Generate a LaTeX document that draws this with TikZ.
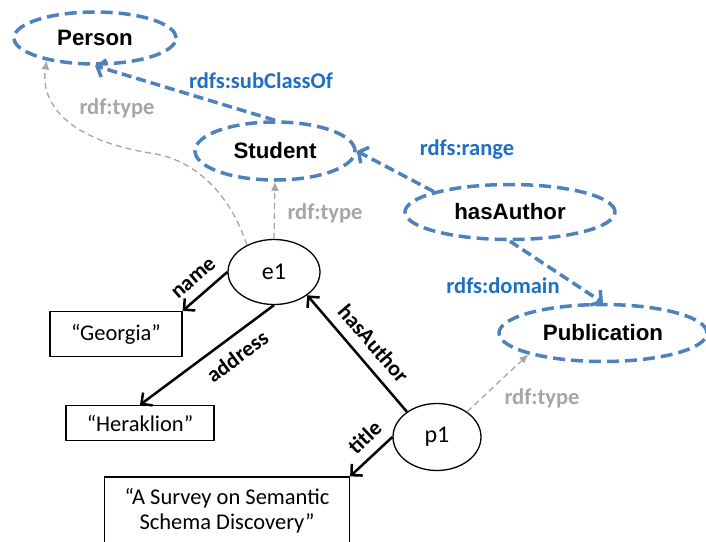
\documentclass[tikz,border=0pt]{standalone}
\usepackage{fontspec}
\setmainfont{Carlito}
\newfontfamily\classfont{Liberation Sans}
\usepackage{tikz}
\usetikzlibrary{arrows.meta,shapes.geometric}
\usepackage{xcolor}
\definecolor{rdfsblue}{RGB}{79,129,189}
\definecolor{rdfslabel}{RGB}{31,112,193}
\definecolor{typegray}{RGB}{166,166,166}

\begin{document}
\begin{tikzpicture}[x=1pt,y=-1pt,
    every node/.style={font=\fontsize{22.5}{25}\selectfont},
    class/.style={ellipse,draw=rdfsblue,line width=3.5pt,dash pattern=on 12pt off 6pt,inner sep=0pt,font=\classfont\bfseries\fontsize{22.3}{25}\selectfont},
    res/.style={ellipse,draw,line width=1.3pt,inner sep=0pt,font=\fontsize{24}{28}\selectfont},
    lit/.style={rectangle,draw,line width=1.3pt,inner sep=0pt,align=center},
    prop/.style={draw,line width=2.5pt,-{Straight Barb[length=8pt,width=16pt]}},
    schema/.style={draw=rdfsblue,line width=3.5pt,dash pattern=on 10pt off 5pt,-{Straight Barb[length=7pt,width=18pt]}},
    inst/.style={draw=typegray,line width=1.3pt,dash pattern=on 6pt off 4pt,-{Latex[length=9pt,width=8pt]}},
    plabel/.style={font=\bfseries\fontsize{22}{25}\selectfont,sloped,inner sep=10pt},
    slabel/.style={font=\bfseries\fontsize{22.5}{25}\selectfont,text=rdfslabel},
    tlabel/.style={font=\bfseries\fontsize{22.5}{25}\selectfont,text=typegray}]
    \useasboundingbox (0,0) rectangle (706,541);

    % schema
    \node[class,minimum width=162pt,minimum height=52pt] (person) at (95,38) {Person};
    \node[class,minimum width=160pt,minimum height=58pt] (student) at (275,151) {Student};
    \node[class,minimum width=210pt,minimum height=55pt] (hasauthor) at (510,212) {hasAuthor};
    \node[class,minimum width=208pt,minimum height=57pt] (publication) at (603,333) {Publication};

    % data
    \node[res,minimum width=92pt,minimum height=65pt] (e1) at (274,272) {e1};
    \node[res,minimum width=88pt,minimum height=67pt] (p1) at (437,437) {p1};
    \node[lit,minimum width=132pt,minimum height=45pt] (georgia) at (116,334) {“Georgia”};
    \node[lit,minimum width=148pt,minimum height=35pt] (heraklion) at (140,423) {“Heraklion”};
    \node[lit,minimum width=245pt,minimum height=68pt] (survey) at (227,511) {“A Survey on Semantic\\Schema Discovery”};
    \coordinate (bend) at (150,153);

    \draw[schema] (student.north) to (person.south);
    \draw[schema] (hasauthor.165) to (student.east);
    \draw[schema] (hasauthor.south) to (publication.north);
    \node[slabel] (subclasslbl) at (261,81) {rdfs:subClassOf};
    \node[slabel] (rangelbl) at (467,150) {rdfs:range};
    \node[slabel] (domainlbl) at (503,286) {rdfs:domain};

    \draw[inst] (e1.135) .. controls (232,200) and (200,160) .. (bend) .. controls (70,140) and (40,105) .. (person.205);
    \draw[inst] (e1.north) to (student.south);
    \draw[inst] (p1.40) to (publication.196);
    \node[tlabel] (typelbla) at (117,108) {rdf:type};
    \node[tlabel] (typelblb) at (325,213) {rdf:type};
    \node[tlabel] (typelblc) at (542,398) {rdf:type};

    \draw[prop] (e1.west) to node[plabel,above] {name} (georgia.north east);
    \draw[prop] (e1.south) to node[plabel,below,pos=.36] {address} (heraklion.north);
    \draw[prop] (p1.140) to node[plabel,above,pos=.48] {hasAuthor} (e1.-35);
    \draw[prop] (p1.west) to node[plabel,above,pos=.35] {title} (survey.north east);
\end{tikzpicture}
\end{document}
